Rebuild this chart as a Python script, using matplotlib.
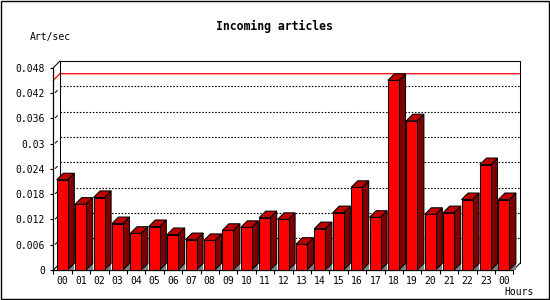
import matplotlib
matplotlib.use("Agg")
import matplotlib.pyplot as plt
from matplotlib.patches import Polygon, Rectangle

hours = ["00", "01", "02", "03", "04", "05", "06", "07", "08", "09", "10", "11",
         "12", "13", "14", "15", "16", "17", "18", "19", "20", "21", "22", "23", "00"]
values = [0.0214, 0.0156, 0.0172, 0.0110, 0.0087, 0.0103, 0.0084, 0.0072, 0.0070,
          0.0094, 0.0101, 0.0124, 0.0120, 0.0061, 0.0098, 0.0136, 0.0196, 0.0125,
          0.0450, 0.0354, 0.0132, 0.0136, 0.0167, 0.0250, 0.0167]
ytick_vals = [0, 0.006, 0.012, 0.018, 0.024, 0.03, 0.036, 0.042, 0.048]
ytick_labels = ["0", "0.006", "0.012", "0.018", "0.024", "0.03", "0.036", "0.042", "0.048"]
title = "Incoming articles"
ylabel = "Art/sec"
xlabel = "Hours"

W, H = 550, 300
fig = plt.figure(figsize=(W / 100, H / 100), dpi=100)
fig.patch.set_facecolor("white")

FONT = "DejaVu Sans Mono"
# axes = front face region
ax_l, ax_r, ax_b, ax_t = 53.3, 513.3, 270.0, 67.7
ax = fig.add_axes([ax_l / W, 1 - ax_b / H, (ax_r - ax_l) / W, (ax_b - ax_t) / H])
ax.set_facecolor("none")
n = len(values)
ymax = ytick_vals[-1]
ax.set_xlim(0, n)
ax.set_ylim(0, ymax)

px_x = n / (ax_r - ax_l)          # data per pixel in x
px_y = ymax / (ax_b - ax_t)       # data per pixel in y
depth = 6.6
dx = depth * px_x
dy = depth * px_y

for s in ["top", "right"]:
    ax.spines[s].set_visible(False)
for s in ["left", "bottom"]:
    ax.spines[s].set_linewidth(0.9)
    ax.spines[s].set_color("black")

ax.set_yticks(ytick_vals)
ax.set_yticklabels(ytick_labels, family=FONT, fontsize=7)
ax.tick_params(axis="y", length=2.3, width=0.8, pad=3.8, direction="out")
centers = [i + 0.5 for i in range(n)]
ax.set_xticks(centers)
ax.set_xticklabels(hours, family=FONT, fontsize=7)
ax.set_xticks(list(range(n + 1)), minor=True)
ax.tick_params(axis="x", which="major", length=0, pad=4)
ax.tick_params(axis="x", which="minor", length=2.8, width=0.8, direction="out")

lw = 0.75
# back wall frame
ax.plot([dx, dx, n + dx, n + dx], [dy, ymax + dy, ymax + dy, dy], color="black", lw=lw, clip_on=False, zorder=2)
ax.plot([0, dx], [ymax, ymax + dy], color="black", lw=lw, clip_on=False, zorder=2)
ax.plot([n, n + dx], [0, dy], color="black", lw=lw, clip_on=False, zorder=2)
ax.plot([0, dx], [0, dy], color="black", lw=lw, clip_on=False, zorder=2)

# dotted grid lines on back wall
for v in ytick_vals[1:-1]:
    ax.plot([dx, n + dx], [v + dy, v + dy], color="black", lw=0.8,
            linestyle=(0, (1.4, 1.5)), clip_on=False, zorder=1)
    ax.plot([2 * px_x, 4 * px_x], [v + 0.5 * px_y, v + 2.5 * px_y], color="black", lw=0.7, clip_on=False, zorder=1)

# max line
vmax = max(values)
ax.plot([0, dx, n + dx], [vmax, vmax + dy, vmax + dy], color="#ff0000", lw=0.9, clip_on=False, zorder=1.5)

# bars
off = 3.4 * px_x
bw = 11.0 * px_x
for i, v in enumerate(values):
    xl = i + off
    xr = xl + bw
    ax.add_patch(Polygon([(xr, 0), (xr + dx, 0), (xr + dx, dy)], closed=True,
                         facecolor="#808080", edgecolor="none", zorder=3, clip_on=False))
    ax.add_patch(Polygon([(xr, 0), (xr, v), (xr + dx, v + dy), (xr + dx, dy)], closed=True,
                         facecolor="#800000", edgecolor="black", lw=lw, zorder=4, clip_on=False))
    ax.add_patch(Polygon([(xl, v), (xr, v), (xr + dx, v + dy), (xl + dx, v + dy)], closed=True,
                         facecolor="#c00000", edgecolor="black", lw=lw, zorder=4, clip_on=False))
ax.bar([i + off for i in range(n)], values, width=bw, align="edge", color="#ff0000",
       edgecolor="black", linewidth=lw, zorder=5, clip_on=False)

fig.text(274 / W, 1 - 26.7 / H, title, family=FONT, fontweight="bold", fontsize=8.3,
         ha="center", va="center")
fig.text(50.5 / W, 1 - 36.7 / H, ylabel, family=FONT, fontsize=7, ha="center", va="center")
fig.text(519.5 / W, 1 - 292.3 / H, xlabel, family=FONT, fontsize=7, ha="center", va="center")

fig.add_artist(Rectangle((0.5 / W, 1.0 / H), 548.2 / W, 298.0 / H, transform=fig.transFigure,
                         facecolor="none", edgecolor="black", lw=1.0))

fig.savefig("out.png", dpi=100)
